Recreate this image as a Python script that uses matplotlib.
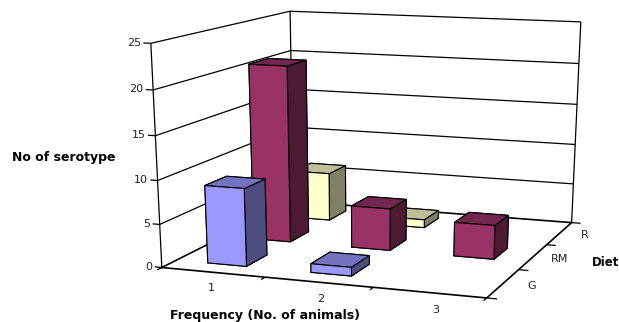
import numpy as np
import matplotlib
matplotlib.use('Agg')
import matplotlib.pyplot as plt
from mpl_toolkits.mplot3d import proj3d

plt.rcParams['font.family'] = ['DejaVu Sans']

freq_labels = ['1', '2', '3']
diet_labels = ['G', 'RM', 'R']
z_ticks = [0, 5, 10, 15, 20, 25]

g_vals = [9, 1, 0]
rm_vals = [21, 5, 4]
r_vals = [6, 1, 0]

# front, side, top colours of each series
g_cols = ['#9999FF', '#4D4D80', '#7373BF']
rm_cols = ['#993366', '#4D1A33', '#732650']
r_cols = ['#FFFFCC', '#808066', '#BFBF99']

bar_w = 0.38
bar_d = 0.45

# box points (data) and where they sit on the picture, gives the excel style view
box = np.array([[0, 0, 0], [1, 0, 0], [2, 0, 0], [3, 0, 0],
                [3, 1, 0], [3, 2, 0], [3, 3, 0], [0, 3, 0],
                [0, 0, 5], [0, 0, 10], [0, 0, 15], [0, 0, 20], [0, 0, 25],
                [0, 3, 5], [0, 3, 20], [0, 3, 25],
                [3, 3, 5], [3, 3, 15], [3, 3, 20], [3, 3, 25]], dtype=float)
pix = np.array([[162, 267], [265, 278], [373, 288], [487, 298],
                [518, 270], [547, 244], [572, 222], [293, 203],
                [160, 224], [158, 180], [156, 136], [153, 90], [150, 43],
                [293, 163], [291, 51], [290, 11],
                [573, 184], [577, 104], [579, 63], [581, 23]], dtype=float)

rows = []
for (X, Y, Z), (u, v) in zip(box, pix):
    rows.append([X, Y, Z, 1, 0, 0, 0, 0, -u*X, -u*Y, -u*Z, -u])
    rows.append([0, 0, 0, 0, X, Y, Z, 1, -v*X, -v*Y, -v*Z, -v])
P = np.linalg.svd(np.array(rows))[2][-1].reshape(3, 4)
if P[2] @ np.array([1.5, 1.5, 12, 1]) < 0:
    P = -P
M = np.vstack([P[0], P[1], [0, 0, 0, -1], P[2]])

fig = plt.figure(figsize=(6.19, 3.22), dpi=100)
ax = fig.add_axes([0, 0, 1, 619/322], projection='3d', computed_zorder=False)
ax.set_proj_type('ortho')  # stops line clipping, real view is in M
ax.get_proj = lambda: M
ax.set_axis_off()
ax.viewLim.intervalx = (0, 619)
ax.viewLim.intervaly = (322, -297)

lk = dict(color='black', lw=0.9, solid_capstyle='butt')
# grid on the walls
for z in z_ticks[1:]:
    ax.plot([0, 0, 3], [0, 3, 3], [z, z, z], zorder=1, **lk)
    ax.plot([-0.07, 0], [0, 0], [z, z], zorder=1, **lk)
ax.plot([-0.07, 0], [0, 0], [0, 0], zorder=1, **lk)
# wall edges and floor
ax.plot([0, 0], [0, 0], [0, 25], zorder=1, **lk)
ax.plot([0, 0], [3, 3], [0, 25], zorder=1, **lk)
ax.plot([3, 3], [3, 3], [0, 25], zorder=1, **lk)
ax.plot([0, 3, 3, 0, 0], [0, 0, 3, 3, 0], [0, 0, 0, 0, 0], zorder=1,
        color='black', lw=1.2)
# ticks
for i in range(4):
    ax.plot([i, i], [0, -0.09], [0, 0], zorder=1, **lk)
    ax.plot([3, 3.09], [i, i], [0, 0], zorder=1, **lk)


def draw_row(vals, row, cols, zo):
    for i, v in enumerate(vals):
        if v == 0:
            continue
        x0 = i + 0.5 - bar_w/2
        y0 = row + 0.5 - 0.21
        # -Z, +Z, -Y, +Y, -X, +X
        face = [cols[2], cols[2], cols[0], cols[0], cols[1], cols[1]]
        ax.bar3d(x0, y0, 0, bar_w, bar_d, v, color=face, shade=False,
                 edgecolor='black', linewidth=0.8, zorder=zo + i)


draw_row(r_vals, 2, r_cols, 10)
draw_row(rm_vals, 1, rm_cols, 20)
draw_row(g_vals, 0, g_cols, 30)


def put_label(x, y, z, s, ha):
    # plain figure text at the projected spot
    u, v, _ = proj3d.proj_transform(x, y, z, M)
    fig.text(u/619, 1 - v/322, s, ha=ha, va='center', fontsize=8, color='#222222')


for z in z_ticks:
    put_label(-0.09, 0, z, str(z), 'right')
for i, lab in enumerate(freq_labels):
    put_label(i + 0.72, -0.5, 0, lab, 'center')
for i, lab in enumerate(diet_labels):
    put_label(3.25, i + 0.5, 0, lab, 'center')

fig.text(12/619, 1 - 157/322, 'No of serotype', fontsize=9, fontweight='bold',
         ha='left', va='center')
fig.text(265/619, 1 - 316/322, 'Frequency (No. of animals)', fontsize=9,
         fontweight='bold', ha='center', va='center')
fig.text(592/619, 1 - 263/322, 'Diet', fontsize=8.5, fontweight='bold',
         ha='left', va='center')

fig.savefig('out.png', dpi=100)
